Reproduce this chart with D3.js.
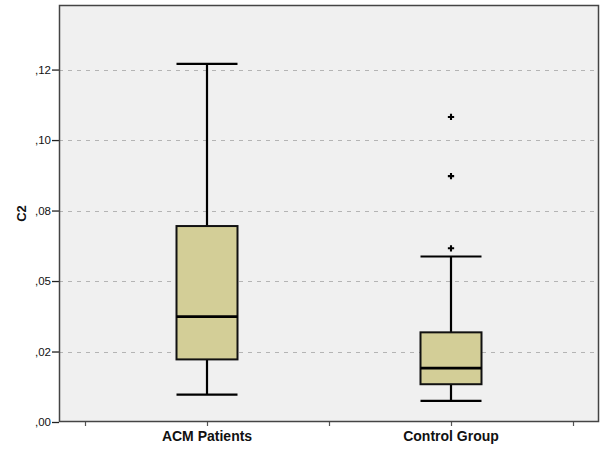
<!DOCTYPE html>
<html><head><meta charset="utf-8">
<script src="https://cdn.jsdelivr.net/npm/d3@7"></script>
<style>body{margin:0;background:#fff}svg{display:block}</style>
</head><body>
<svg id="c" width="602" height="450"></svg>
<script>
const categories = ["ACM Patients", "Control Group"];
const whiskerLow = [0.0097, 0.0075];
const q1 = [0.0222, 0.0134];
const median = [0.0374, 0.0191];
const q3 = [0.0695, 0.0318];
const whiskerHigh = [0.1270, 0.0587];
const outliers = [[], [0.1082, 0.0872, 0.0616]];
const yTicks = [0, 0.025, 0.05, 0.075, 0.1, 0.125];
const yTickLabels = [",00", ",02", ",05", ",08", ",10", ",12"];
const yTitle = "C2";

const svg = d3.select("#c");
const L = 59, T = 5, R = 599, B = 422;
const y = d3.scaleLinear().domain([0, 0.1479]).range([B, T]);
const x = d3.scaleBand().domain(categories).range([85, 573]);
const boxW = 61;

svg.append("rect").attr("x", L).attr("y", T).attr("width", R - L).attr("height", B - T)
  .attr("fill", "#f0f0f0");

// gridlines
svg.append("g").selectAll("line").data(yTicks.slice(1)).join("line")
  .attr("x1", L).attr("x2", R).attr("y1", d => Math.round(y(d)) + 0.5).attr("y2", d => Math.round(y(d)) + 0.5)
  .attr("stroke", "#b4b4b4").attr("stroke-width", 1).attr("stroke-dasharray", "4,5");

// y axis
const yAxis = d3.axisLeft(y).tickValues(yTicks).tickSize(7).tickPadding(1)
  .tickFormat((d, i) => yTickLabels[i]);
const gy = svg.append("g").attr("transform", `translate(${L},0)`).call(yAxis);
gy.select(".domain").remove();
gy.selectAll(".tick line").attr("stroke", "#222").attr("stroke-width", 1.3);
gy.selectAll(".tick text").attr("font-family", "Liberation Sans, Arial, sans-serif")
  .attr("font-size", 11.5).attr("fill", "#111");

// x axis
const xAxis = d3.axisBottom(x).tickSize(0).tickPadding(9);
const gx = svg.append("g").attr("transform", `translate(0,${B})`).call(xAxis);
gx.select(".domain").remove();
gx.selectAll(".tick text").attr("font-family", "Liberation Sans, Arial, sans-serif")
  .attr("font-size", 14).attr("font-weight", "bold").attr("fill", "#111");
const xTickPos = [x.range()[0], ...categories.map(c => x(c) + x.bandwidth() / 2), x(categories[1]), x.range()[1]];
svg.append("g").selectAll("line").data(xTickPos).join("line")
  .attr("x1", d => Math.round(d) + 0.5).attr("x2", d => Math.round(d) + 0.5)
  .attr("y1", B).attr("y2", B + 4).attr("stroke", "#555").attr("stroke-width", 1.2);

// frame
svg.append("rect").attr("x", L + 0.5).attr("y", T + 0.5).attr("width", R - L - 1).attr("height", B - T - 1)
  .attr("fill", "none").attr("stroke", "#444").attr("stroke-width", 1.5);

// y title
svg.append("text").attr("transform", `translate(26,${(T + B) / 2}) rotate(-90)`)
  .attr("text-anchor", "middle").attr("font-family", "Liberation Sans, Arial, sans-serif")
  .attr("font-size", 13).attr("font-weight", "bold").attr("fill", "#111").text(yTitle);

// boxes
const g = svg.append("g");
categories.forEach((c, i) => {
  const cx = x(c) + x.bandwidth() / 2;
  const line = (x1, y1, x2, y2, w) => g.append("line").attr("x1", x1).attr("y1", y1).attr("x2", x2).attr("y2", y2)
    .attr("stroke", "#000").attr("stroke-width", w);
  line(cx, y(whiskerHigh[i]), cx, y(q3[i]), 2.2);
  line(cx, y(q1[i]), cx, y(whiskerLow[i]), 2.2);
  line(cx - boxW / 2, y(whiskerHigh[i]), cx + boxW / 2, y(whiskerHigh[i]), 2.2);
  line(cx - boxW / 2, y(whiskerLow[i]), cx + boxW / 2, y(whiskerLow[i]), 2.2);
  g.append("rect").attr("x", cx - boxW / 2).attr("y", y(q3[i])).attr("width", boxW)
    .attr("height", y(q1[i]) - y(q3[i])).attr("fill", "#d3ce97").attr("stroke", "#111").attr("stroke-width", 2);
  line(cx - boxW / 2, y(median[i]), cx + boxW / 2, y(median[i]), 2.8);
  g.selectAll(null).data(outliers[i]).join("path")
    .attr("transform", d => `translate(${cx},${y(d)})`)
    .attr("d", d3.symbol(d3.symbolCross, 22)).attr("fill", "#000");
});
</script>
</body></html>
